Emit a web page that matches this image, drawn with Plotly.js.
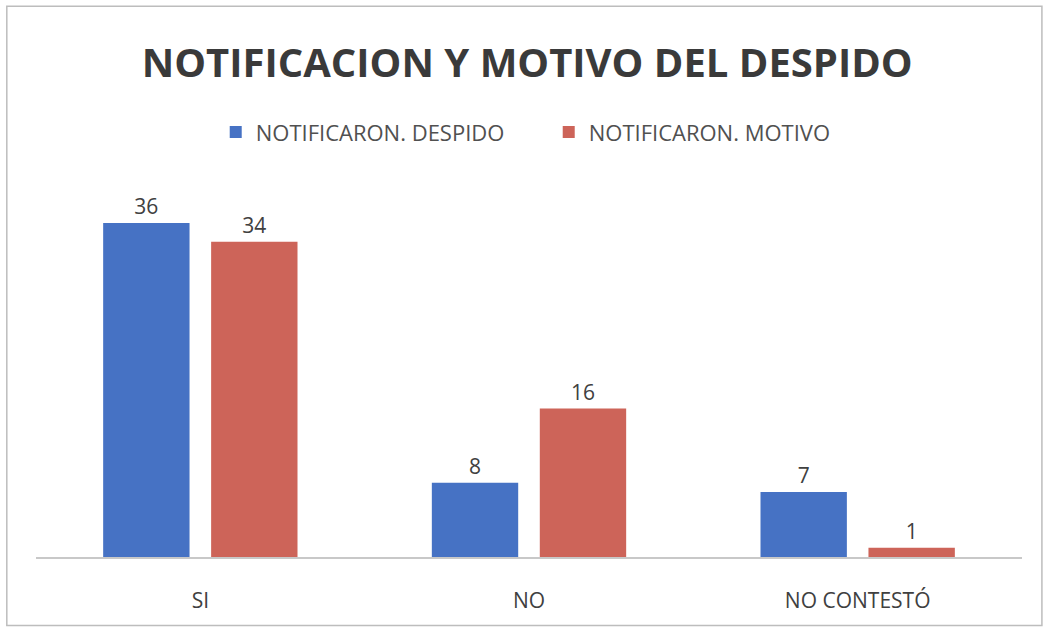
<!DOCTYPE html>
<html>
<head>
<meta charset="utf-8">
<script src="https://cdn.plot.ly/plotly-3.0.1.min.js"></script>
<style>html,body{margin:0;padding:0;background:#fff;}#chart{width:1044px;height:639px;}</style>
</head>
<body>
<div id="chart"></div>
<script>
const categories = ["SI", "NO", "NO CONTESTÓ"];
const seriesNames = ["NOTIFICARON. DESPIDO", "NOTIFICARON. MOTIVO"];
const despido = [36, 8, 7];
const motivo = [34, 16, 1];
const colors = ["#4672C4", "#CD6459"];

const labelFont = {family: "Open Sans, Lato, sans-serif", size: 21, color: "#404040"};

const traces = [despido, motivo].map((vals, i) => ({
  type: "bar",
  name: seriesNames[i],
  x: categories,
  y: vals,
  marker: {color: colors[i]},
  text: vals.map(String),
  textposition: "outside",
  textfont: labelFont,
  cliponaxis: false,
  hoverinfo: "skip"
}));

const layout = {
  width: 1044,
  height: 639,
  paper_bgcolor: "#ffffff",
  plot_bgcolor: "#ffffff",
  margin: {l: 36, r: 22, t: 186, b: 82},
  barmode: "group",
  bargap: 0.343,
  bargroupgap: 0.2,
  title: {
    text: "<b>NOTIFICACION Y MOTIVO DEL DESPIDO</b>",
    font: {family: "Open Sans, Lato, sans-serif", size: 40, color: "#3a3a3a"},
    x: 0.505, xanchor: "center",
    y: 0.902, yanchor: "middle"
  },
  showlegend: true,
  legend: {
    orientation: "h",
    x: 0.52, xanchor: "center",
    y: 1.145, yanchor: "middle",
    font: {family: "Open Sans, Lato, sans-serif", size: 22, color: "#505050"},
    itemwidth: 30,
    entrywidth: 288,
    traceorder: "normal"
  },
  xaxis: {
    showline: true,
    linecolor: "#c8c8c8",
    linewidth: 1.5,
    ticks: "",
    tickfont: {family: "Open Sans, Lato, sans-serif", size: 21, color: "#404040"},
    ticklabelstandoff: 24,
    showgrid: false,
    zeroline: false,
    fixedrange: true
  },
  yaxis: {
    range: [0, 40],
    visible: false,
    showgrid: false,
    zeroline: false,
    fixedrange: true
  },
  shapes: [{
    type: "rect",
    xref: "paper", yref: "paper",
    x0: -0.0296, x1: 1.0202,
    y0: -0.1844, y1: 1.4843,
    line: {color: "#bdbdbd", width: 1.5},
    fillcolor: "rgba(0,0,0,0)"
  }]
};

Plotly.newPlot("chart", traces, layout, {displayModeBar: false, staticPlot: true});
</script>
</body>
</html>
